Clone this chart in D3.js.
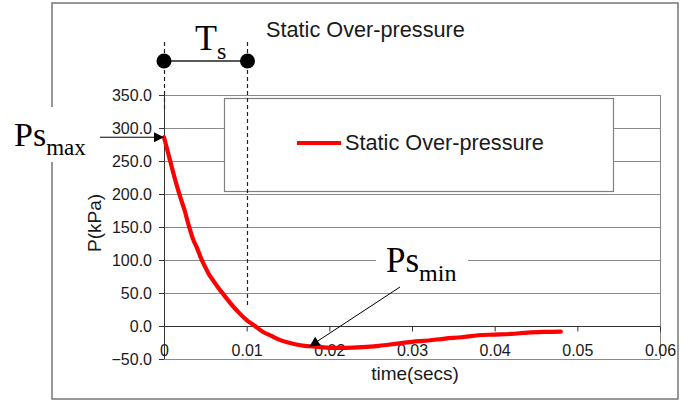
<!DOCTYPE html>
<html>
<head>
<meta charset="utf-8">
<script src="https://cdn.jsdelivr.net/npm/d3@7/dist/d3.min.js"></script>
<style>
  html, body { margin: 0; padding: 0; background: #fff; }
  svg { display: block; }
  text { font-family: "Liberation Sans", Arial, sans-serif; fill: #1a1a1a; }
  .serif { font-family: "Liberation Serif", "Times New Roman", serif; fill: #000; }
</style>
</head>
<body>
<svg id="chart" width="691" height="403"></svg>
<script>
// Static over-pressure history: time (s) and pressure (kPa)
const timeSecs = [0, 0.0005, 0.001, 0.0015, 0.002, 0.0025, 0.003, 0.0035, 0.004, 0.0045,
  0.005, 0.0055, 0.006, 0.0065, 0.007, 0.0075, 0.008, 0.009, 0.010, 0.011, 0.012, 0.013,
  0.014, 0.015, 0.016, 0.017, 0.018, 0.019, 0.020, 0.022, 0.024, 0.026, 0.028, 0.030,
  0.032, 0.034, 0.036, 0.038, 0.040, 0.042, 0.044, 0.046, 0.048];
const pressureKPa = [286, 262, 238, 215, 194, 175, 152, 132, 118, 102,
  89, 77, 68, 59, 51, 43, 35, 21, 9, 0, -9, -15,
  -21, -25, -28, -30, -31, -32, -33, -33, -32, -30, -27, -24,
  -22, -19, -17, -14, -13, -12, -10, -9, -8.5];

const yTicks = [-50, 0, 50, 100, 150, 200, 250, 300, 350];
const xTicks = [0, 0.01, 0.02, 0.03, 0.04, 0.05, 0.06];
const seriesName = "Static Over-pressure";
const chartTitle = "Static Over-pressure";
const xTitle = "time(secs)";
const yTitle = "P(kPa)";
const psMaxValue = 286;      // peak pressure at t = 0
const psMinTime = 0.0176;    // time the Ps_min arrow points to
const positivePhase = 0.0101; // duration Ts

const svg = d3.select("#chart");
const x = d3.scaleLinear().domain([0, 0.06]).range([164, 660]);
const y = d3.scaleLinear().domain([-50, 350]).range([359, 95]);
const gridColor = "#8a8a8a";

// outer frame
svg.append("rect").attr("x", 52).attr("y", 3).attr("width", 626).attr("height", 396)
  .attr("fill", "#fff").attr("stroke", "#777").attr("stroke-width", 1.5);

// horizontal gridlines
svg.append("g").selectAll("line").data(yTicks).join("line")
  .attr("x1", x(0)).attr("x2", x(0.06))
  .attr("y1", d => Math.round(y(d)) + 0.5).attr("y2", d => Math.round(y(d)) + 0.5)
  .attr("stroke", gridColor).attr("stroke-width", 1);

// plot area right edge
svg.append("line").attr("x1", x(0.06) + 0.5).attr("x2", x(0.06) + 0.5)
  .attr("y1", y(350)).attr("y2", y(-50)).attr("stroke", gridColor);

// y axis
const yAxis = svg.append("g").attr("transform", `translate(${x(0)},0)`)
  .call(d3.axisLeft(y).tickValues(yTicks).tickFormat(d3.format(".1f")).tickSize(5).tickPadding(7));
yAxis.select(".domain").attr("stroke", "#333").attr("d", `M0.5,${y(350)}V${y(-50)}`);
yAxis.selectAll(".tick line").attr("stroke", "#333");
yAxis.selectAll("text").style("font-size", "16px").style("font-family", "Liberation Sans, Arial, sans-serif").attr("fill", "#1a1a1a");

// x axis crossing at zero
const xAxis = svg.append("g").attr("transform", `translate(0,${Math.round(y(0)) + 0.5})`)
  .call(d3.axisBottom(x).tickValues(xTicks).tickFormat(d => d === 0 ? "0" : d3.format(".2f")(d)).tickSize(5).tickPadding(13));
xAxis.select(".domain").attr("stroke", "#333").attr("d", `M${x(0)},0H${x(0.06)}`);
xAxis.selectAll(".tick line").attr("stroke", "#333");
xAxis.selectAll("text").style("font-size", "16px").style("font-family", "Liberation Sans, Arial, sans-serif").attr("fill", "#1a1a1a");

// legend box
svg.append("rect").attr("x", 224.5).attr("y", 98.5).attr("width", 389).attr("height", 93)
  .attr("fill", "#fff").attr("stroke", "#808080").attr("stroke-width", 1.2);
svg.append("line").attr("x1", 297).attr("x2", 341).attr("y1", 143).attr("y2", 143)
  .attr("stroke", "#ff0000").attr("stroke-width", 4);
svg.append("text").attr("x", 345).attr("y", 150).style("font-size", "21.7px").text(seriesName);

// chart title
svg.append("text").attr("x", 266).attr("y", 37).style("font-size", "21.7px").text(chartTitle);

// axis titles
svg.append("text").attr("x", 415).attr("y", 380).attr("text-anchor", "middle")
  .style("font-size", "19px").text(xTitle);
svg.append("text").attr("transform", "translate(101,223) rotate(-90)").attr("text-anchor", "middle")
  .style("font-size", "19px").text(yTitle);

// Ts markers: dashed verticals, end dots and bracket
svg.append("line").attr("x1", x(0) + 0.5).attr("x2", x(0) + 0.5).attr("y1", 42).attr("y2", 110)
  .attr("stroke", "#222").attr("stroke-width", 1.2).attr("stroke-dasharray", "4,3");
svg.append("line").attr("x1", x(positivePhase)).attr("x2", x(positivePhase)).attr("y1", 42).attr("y2", 308)
  .attr("stroke", "#222").attr("stroke-width", 1.2).attr("stroke-dasharray", "4,3");
svg.append("line").attr("x1", x(0)).attr("x2", x(positivePhase)).attr("y1", 61).attr("y2", 61)
  .attr("stroke", "#222").attr("stroke-width", 1.3);
svg.append("g").selectAll("circle").data([0, positivePhase]).join("circle")
  .attr("cx", d => x(d)).attr("cy", 61).attr("r", 7.5).attr("fill", "#000");
const ts = svg.append("text").attr("class", "serif").attr("x", 195).attr("y", 50).style("font-size", "36px");
ts.append("tspan").text("T");
ts.append("tspan").attr("dy", 9).style("font-size", "24px").text("s");

// pressure curve
const line = d3.line().x((d, i) => x(timeSecs[i])).y(d => y(d)).curve(d3.curveMonotoneX);
svg.append("path").datum(pressureKPa).attr("d", line)
  .attr("fill", "none").attr("stroke", "#ff0000").attr("stroke-width", 4.2)
  .attr("stroke-linejoin", "round").attr("stroke-linecap", "round");

// arrowhead marker
svg.append("defs").append("marker").attr("id", "arrow").attr("viewBox", "0 0 10 10")
  .attr("refX", 10).attr("refY", 5).attr("markerWidth", 11).attr("markerHeight", 10)
  .attr("markerUnits", "userSpaceOnUse").attr("orient", "auto")
  .append("path").attr("d", "M0,0L10,5L0,10Z").attr("fill", "#000");

// Ps_max label and arrow
svg.append("rect").attr("x", 8).attr("y", 107).attr("width", 88).attr("height", 55).attr("fill", "#fff");
const pmax = svg.append("text").attr("class", "serif").attr("x", 14).attr("y", 146).style("font-size", "34px");
pmax.append("tspan").text("Ps");
pmax.append("tspan").attr("dy", 9).style("font-size", "23px").text("max");
svg.append("line").attr("x1", 100).attr("x2", x(0)).attr("y1", y(psMaxValue)).attr("y2", y(psMaxValue))
  .attr("stroke", "#000").attr("stroke-width", 1).attr("marker-end", "url(#arrow)");

// Ps_min label and arrow
svg.append("rect").attr("x", 376).attr("y", 240).attr("width", 92).attr("height", 44).attr("fill", "#fff");
const pmin = svg.append("text").attr("class", "serif").attr("x", 386).attr("y", 272).style("font-size", "35px");
pmin.append("tspan").text("Ps");
pmin.append("tspan").attr("dy", 9).style("font-size", "24px").text("min");
svg.append("line").attr("x1", 400).attr("y1", 287).attr("x2", x(psMinTime)).attr("y2", y(-31))
  .attr("stroke", "#000").attr("stroke-width", 1).attr("marker-end", "url(#arrow)");
</script>
</body>
</html>
